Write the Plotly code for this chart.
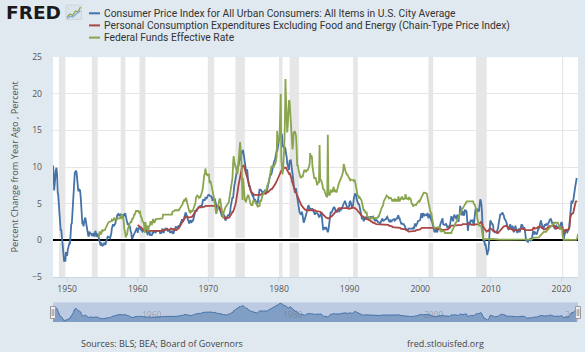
import plotly.graph_objects as go
import pandas as pd

# ---------------- data ----------------
CPI_START = "1948-01-01"
cpi = [
    10.2, 9.3, 6.8, 8.3, 9.4, 9.6, 9.9, 8.9, 6.5, 6.1, 4.8, 3.0,       # 1948
    1.3, 1.3, 1.5, 0.4, -0.6, -0.9, -2.8, -2.9, -2.5, -2.9, -1.6, -2.0,  # 1949
    -2.1, -1.3, -0.9, -1.0, -0.4, -0.4, 1.7, 2.2, 2.3, 3.8, 4.4, 5.8,   # 1950
    7.9, 9.2, 9.3, 9.5, 9.3, 8.5, 7.5, 6.7, 6.8, 6.9, 6.8, 6.0,         # 1951
    4.3, 2.2, 2.2, 2.3, 1.9, 2.6, 3.1, 3.1, 2.5, 1.9, 1.3, 0.9,         # 1952
    0.6, 0.6, 1.2, 1.0, 1.0, 0.9, 0.6, 0.9, 0.8, 1.0, 0.6, 0.6,         # 1953
    1.3, 1.0, 0.9, 0.5, 0.9, 0.5, 0.4, 0.0, -0.3, -0.7, -0.3, -0.6,     # 1954
    -0.8, -0.6, -0.6, -0.4, -0.6, -0.6, -0.3, 0.0, 0.3, 0.5, 0.5, 0.4,  # 1955
    0.3, 0.3, 0.6, 0.9, 1.6, 2.0, 2.2, 1.9, 2.0, 2.2, 2.3, 2.9,         # 1956
    2.9, 3.4, 3.6, 3.6, 3.5, 3.3, 3.5, 3.6, 3.3, 3.0, 3.5, 3.0,         # 1957
    3.6, 3.3, 3.6, 3.6, 3.2, 2.8, 2.4, 2.1, 2.2, 2.1, 1.9, 1.8,         # 1958
    1.2, 1.0, 0.3, 0.3, 0.5, 0.7, 0.9, 1.2, 1.3, 1.5, 1.6, 1.7,         # 1959
    1.0, 1.7, 1.5, 1.9, 1.7, 1.7, 1.4, 1.4, 1.2, 1.3, 1.3, 1.3,         # 1960
    1.6, 1.4, 1.5, 1.0, 1.0, 0.7, 1.3, 1.0, 1.3, 0.7, 0.7, 0.7,         # 1961
    0.7, 1.0, 1.0, 1.3, 1.3, 1.3, 1.0, 1.3, 1.3, 1.3, 1.3, 1.3,         # 1962
    1.3, 1.3, 1.0, 1.0, 1.0, 1.3, 1.6, 1.3, 1.0, 1.3, 1.6, 1.6,         # 1963
    1.6, 1.6, 1.6, 1.3, 1.3, 1.3, 1.3, 1.0, 1.3, 1.0, 1.3, 1.3,         # 1964
    0.9, 1.0, 1.3, 1.6, 1.6, 1.9, 1.6, 1.9, 1.6, 2.0, 1.9, 1.9,         # 1965
    2.2, 2.5, 2.5, 2.8, 2.8, 2.5, 2.8, 3.4, 3.4, 3.7, 3.7, 3.4,         # 1966
    3.3, 2.8, 2.7, 2.4, 2.4, 2.7, 2.7, 2.4, 2.7, 2.7, 2.7, 3.0,         # 1967
    3.6, 4.0, 4.0, 4.0, 4.0, 4.2, 4.5, 4.5, 4.5, 4.7, 4.7, 4.7,         # 1968
    4.4, 4.7, 5.3, 5.5, 5.5, 5.5, 5.5, 5.8, 5.7, 5.7, 5.9, 6.2,         # 1969
    6.2, 6.2, 6.1, 6.1, 6.0, 6.0, 5.9, 5.4, 5.7, 5.7, 5.6, 5.6,         # 1970
    5.3, 4.7, 4.5, 4.1, 4.4, 4.6, 4.4, 4.6, 4.1, 3.8, 3.5, 3.3,         # 1971
    3.3, 3.5, 3.5, 3.4, 3.2, 2.7, 2.9, 2.9, 3.2, 3.4, 3.4, 3.4,         # 1972
    3.6, 3.9, 4.6, 5.1, 5.5, 5.9, 5.7, 7.4, 7.4, 7.8, 8.3, 8.7,         # 1973
    9.4, 10.0, 10.2, 10.1, 10.6, 10.9, 11.5, 10.9, 12.0, 12.1, 12.2, 12.3,  # 1974
    11.8, 11.2, 10.3, 10.2, 9.5, 9.3, 9.7, 8.7, 7.9, 7.4, 7.4, 7.2,     # 1975
    6.7, 6.4, 6.1, 6.1, 6.2, 5.9, 5.4, 5.6, 5.5, 5.3, 5.0, 4.9,         # 1976
    5.2, 5.9, 6.4, 6.9, 6.9, 6.9, 6.8, 6.6, 6.6, 6.4, 6.7, 6.7,         # 1977
    6.8, 6.4, 6.4, 6.5, 6.9, 7.4, 7.7, 7.9, 8.3, 8.9, 8.9, 9.0,         # 1978
    9.3, 9.9, 10.2, 10.5, 10.8, 10.9, 11.3, 11.8, 12.2, 12.1, 12.6, 13.3,  # 1979
    13.9, 14.2, 14.8, 14.7, 14.4, 14.4, 13.1, 12.9, 12.6, 12.8, 12.6, 12.5,  # 1980
    11.8, 11.4, 10.5, 10.0, 9.8, 9.6, 10.8, 10.8, 11.0, 10.1, 9.6, 8.9,  # 1981
    8.4, 7.6, 6.8, 6.5, 6.7, 7.1, 6.4, 5.9, 5.0, 5.1, 4.6, 3.8,         # 1982
    3.7, 3.5, 3.6, 3.9, 3.5, 2.6, 2.4, 2.6, 2.9, 2.9, 3.3, 3.8,         # 1983
    4.2, 4.6, 4.8, 4.6, 4.2, 4.3, 4.2, 4.3, 4.3, 4.3, 4.1, 3.9,         # 1984
    3.5, 3.5, 3.7, 3.7, 3.8, 3.7, 3.6, 3.3, 3.2, 3.2, 3.5, 3.8,         # 1985
    3.9, 3.1, 2.2, 1.5, 1.5, 1.8, 1.6, 1.6, 1.8, 1.5, 1.3, 1.1,         # 1986
    1.4, 2.1, 3.0, 3.7, 3.9, 3.7, 3.9, 4.2, 4.3, 4.5, 4.5, 4.4,         # 1987
    4.0, 3.9, 3.9, 3.9, 3.9, 4.0, 4.1, 4.0, 4.2, 4.2, 4.2, 4.4,         # 1988
    4.7, 4.8, 5.0, 5.1, 5.4, 5.2, 5.0, 4.7, 4.4, 4.5, 4.6, 4.6,         # 1989
    5.2, 5.3, 5.2, 4.7, 4.4, 4.7, 4.8, 5.6, 6.2, 6.3, 6.3, 6.3,         # 1990
    5.6, 5.3, 4.9, 4.9, 5.0, 4.7, 4.4, 3.8, 3.4, 2.9, 3.0, 3.1,         # 1991
    2.6, 2.8, 3.2, 3.2, 3.0, 3.1, 3.2, 3.1, 3.0, 3.2, 3.0, 2.9,         # 1992
    3.2, 3.2, 3.0, 3.1, 3.2, 3.0, 2.8, 2.7, 2.7, 2.8, 2.7, 2.7,         # 1993
    2.5, 2.5, 2.5, 2.4, 2.3, 2.5, 2.8, 2.9, 2.9, 2.6, 2.7, 2.7,         # 1994
    2.8, 2.9, 2.9, 3.1, 3.2, 3.0, 2.8, 2.6, 2.5, 2.8, 2.6, 2.5,         # 1995
    2.7, 2.7, 2.8, 2.9, 2.9, 2.7, 2.9, 2.9, 3.0, 3.0, 3.3, 3.4,         # 1996
    3.0, 3.0, 2.7, 2.5, 2.2, 2.3, 2.2, 2.2, 2.2, 2.1, 1.9, 1.7,         # 1997
    1.5, 1.4, 1.4, 1.4, 1.6, 1.6, 1.6, 1.6, 1.5, 1.5, 1.5, 1.6,         # 1998
    1.7, 1.6, 1.7, 2.3, 2.1, 2.0, 2.2, 2.3, 2.6, 2.6, 2.6, 2.7,         # 1999
    2.8, 3.2, 3.7, 3.1, 3.2, 3.7, 3.6, 3.4, 3.5, 3.4, 3.4, 3.4,         # 2000
    3.7, 3.5, 3.0, 3.3, 3.6, 3.2, 2.7, 2.7, 2.6, 2.1, 1.9, 1.6,         # 2001
    1.2, 1.1, 1.5, 1.6, 1.2, 1.1, 1.5, 1.8, 1.5, 2.0, 2.2, 2.4,         # 2002
    2.6, 3.0, 3.0, 2.2, 2.1, 2.1, 2.1, 2.2, 2.3, 2.0, 1.8, 1.9,         # 2003
    1.9, 1.7, 1.7, 2.3, 3.1, 3.3, 3.0, 2.7, 2.6, 3.2, 3.5, 3.3,         # 2004
    3.0, 3.0, 3.1, 3.5, 2.8, 2.5, 3.2, 3.6, 4.7, 4.3, 3.5, 3.4,         # 2005
    4.0, 3.6, 3.4, 3.5, 4.2, 4.0, 4.1, 3.8, 2.1, 1.3, 2.0, 2.5,         # 2006
    2.1, 2.4, 2.8, 2.6, 2.7, 2.7, 2.4, 2.0, 2.8, 3.5, 4.3, 4.1,         # 2007
    4.3, 4.1, 4.0, 3.9, 4.1, 5.0, 5.6, 5.4, 4.9, 3.7, 1.1, 0.1,         # 2008
    -0.1, 0.0, -0.6, -0.6, -1.0, -1.4, -2.0, -1.5, -1.4, -0.2, 1.9, 2.7,  # 2009
    2.6, 2.2, 2.3, 2.2, 2.0, 1.1, 1.2, 1.1, 1.1, 1.2, 1.1, 1.4,         # 2010
    1.6, 2.1, 2.6, 3.1, 3.5, 3.5, 3.6, 3.8, 3.8, 3.5, 3.4, 3.0,         # 2011
    2.9, 2.8, 2.6, 2.3, 1.7, 1.7, 1.4, 1.7, 2.0, 2.2, 1.8, 1.7,         # 2012
    1.6, 2.0, 1.5, 1.1, 1.4, 1.8, 2.0, 1.5, 1.2, 1.0, 1.2, 1.5,         # 2013
    1.6, 1.1, 1.5, 2.0, 2.1, 2.1, 2.0, 1.7, 1.7, 1.7, 1.3, 0.8,         # 2014
    -0.1, 0.0, -0.1, -0.2, 0.0, 0.1, 0.2, 0.2, 0.0, 0.1, 0.4, 0.7,      # 2015
    1.3, 0.9, 0.9, 1.1, 1.0, 1.0, 0.8, 1.1, 1.5, 1.6, 1.7, 2.1,         # 2016
    2.5, 2.7, 2.4, 2.2, 1.9, 1.6, 1.7, 1.9, 2.2, 2.0, 2.2, 2.1,         # 2017
    2.1, 2.2, 2.4, 2.5, 2.8, 2.9, 2.9, 2.7, 2.3, 2.5, 2.2, 1.9,         # 2018
    1.6, 1.5, 1.9, 2.0, 1.8, 1.6, 1.8, 1.7, 1.7, 1.8, 2.1, 2.3,         # 2019
    2.5, 2.3, 1.5, 0.3, 0.2, 0.7, 1.0, 1.3, 1.4, 1.2, 1.1, 1.3,         # 2020
    1.4, 1.7, 2.6, 4.1, 4.9, 5.3, 5.3, 5.2, 5.4, 6.2, 6.8, 7.1,         # 2021
    7.6, 7.9, 8.5,                                                      # 2022
]

PCE_START = "1960-01-01"
pce_core = [
    2.1, 2.0, 1.9, 1.9, 1.8, 1.8, 1.7, 1.7, 1.6, 1.5, 1.5, 1.4,   # 1960
    1.3, 1.3, 1.3, 1.3, 1.3, 1.2, 1.3, 1.2, 1.3, 1.3, 1.3, 1.3,   # 1961
    1.3, 1.3, 1.2, 1.3, 1.2, 1.3, 1.3, 1.2, 1.2, 1.2, 1.2, 1.2,   # 1962
    1.3, 1.3, 1.3, 1.3, 1.2, 1.3, 1.3, 1.4, 1.4, 1.4, 1.4, 1.5,   # 1963
    1.4, 1.4, 1.4, 1.5, 1.5, 1.5, 1.5, 1.5, 1.6, 1.6, 1.6, 1.5,   # 1964
    1.5, 1.5, 1.5, 1.4, 1.4, 1.3, 1.4, 1.5, 1.5, 1.6, 1.7, 1.8,   # 1965
    1.9, 2.0, 2.2, 2.4, 2.5, 2.6, 2.7, 2.9, 3.0, 3.2, 3.2, 3.3,   # 1966
    3.3, 3.2, 3.1, 3.1, 3.1, 3.1, 3.1, 3.1, 3.2, 3.3, 3.4, 3.5,   # 1967
    3.7, 3.8, 4.0, 4.1, 4.2, 4.3, 4.4, 4.5, 4.5, 4.5, 4.5, 4.5,   # 1968
    4.5, 4.5, 4.5, 4.6, 4.5, 4.6, 4.6, 4.7, 4.7, 4.7, 4.8, 4.8,   # 1969
    4.8, 4.8, 4.8, 4.8, 4.8, 4.8, 4.8, 4.8, 4.7, 4.7, 4.7, 4.7,   # 1970
    4.7, 4.8, 4.8, 4.7, 4.8, 4.7, 4.6, 4.5, 4.3, 4.1, 3.9, 3.7,   # 1971
    3.5, 3.3, 3.2, 3.1, 3.0, 3.1, 3.0, 3.0, 3.0, 3.0, 3.1, 3.1,   # 1972
    3.2, 3.3, 3.4, 3.6, 3.7, 3.9, 3.9, 4.1, 4.3, 4.6, 4.9, 5.3,   # 1973
    5.7, 6.2, 6.8, 7.4, 7.9, 8.3, 8.8, 9.2, 9.5, 9.9, 10.1, 10.2,  # 1974
    10.2, 10.0, 9.7, 9.4, 9.1, 8.8, 8.4, 8.1, 7.8, 7.5, 7.2, 7.0,  # 1975
    6.8, 6.6, 6.5, 6.4, 6.3, 6.2, 6.2, 6.2, 6.2, 6.2, 6.1, 6.1,   # 1976
    6.1, 6.1, 6.1, 6.1, 6.1, 6.2, 6.3, 6.3, 6.3, 6.3, 6.3, 6.3,   # 1977
    6.3, 6.4, 6.4, 6.5, 6.5, 6.6, 6.6, 6.7, 6.8, 6.9, 7.0, 7.0,   # 1978
    7.0, 7.1, 7.2, 7.3, 7.4, 7.5, 7.7, 7.9, 8.0, 8.2, 8.4, 8.6,   # 1979
    8.9, 9.1, 9.3, 9.4, 9.5, 9.6, 9.7, 9.8, 9.8, 9.9, 9.9, 9.9,   # 1980
    9.9, 9.7, 9.5, 9.3, 9.2, 9.1, 9.2, 9.0, 8.8, 8.5, 8.1, 7.8,   # 1981
    7.5, 7.3, 7.0, 6.8, 6.6, 6.5, 6.3, 6.1, 5.9, 5.6, 5.4, 5.2,   # 1982
    5.0, 4.9, 4.8, 4.7, 4.6, 4.4, 4.3, 4.3, 4.2, 4.2, 4.1, 4.1,   # 1983
    4.1, 4.1, 4.2, 4.2, 4.2, 4.2, 4.1, 4.1, 4.1, 4.1, 4.1, 4.1,   # 1984
    4.1, 4.1, 4.0, 4.0, 4.0, 4.0, 4.0, 4.0, 4.0, 4.0, 3.9, 3.8,   # 1985
    3.8, 3.7, 3.6, 3.5, 3.4, 3.3, 3.2, 3.2, 3.1, 3.1, 3.0, 3.0,   # 1986
    3.0, 3.0, 3.1, 3.1, 3.2, 3.2, 3.3, 3.4, 3.5, 3.6, 3.7, 3.8,   # 1987
    3.9, 4.0, 4.1, 4.2, 4.2, 4.3, 4.4, 4.4, 4.4, 4.4, 4.4, 4.4,   # 1988
    4.4, 4.4, 4.5, 4.5, 4.5, 4.5, 4.4, 4.4, 4.4, 4.4, 4.3, 4.3,   # 1989
    4.4, 4.4, 4.4, 4.4, 4.4, 4.5, 4.5, 4.5, 4.4, 4.4, 4.3, 4.3,   # 1990
    4.2, 4.1, 4.0, 3.9, 3.8, 3.7, 3.6, 3.5, 3.4, 3.3, 3.3, 3.2,   # 1991
    3.2, 3.1, 3.1, 3.0, 3.0, 2.9, 2.9, 2.8, 2.8, 2.8, 2.7, 2.6,   # 1992
    2.6, 2.6, 2.5, 2.5, 2.4, 2.4, 2.4, 2.3, 2.3, 2.2, 2.2, 2.2,   # 1993
    2.1, 2.1, 2.1, 2.1, 2.1, 2.1, 2.1, 2.1, 2.1, 2.2, 2.2, 2.2,   # 1994
    2.2, 2.2, 2.2, 2.2, 2.1, 2.1, 2.1, 2.0, 2.0, 2.0, 1.9, 1.9,   # 1995
    1.9, 1.8, 1.8, 1.8, 1.8, 1.7, 1.7, 1.7, 1.7, 1.7, 1.7, 1.7,   # 1996
    1.7, 1.7, 1.7, 1.6, 1.6, 1.6, 1.5, 1.5, 1.5, 1.5, 1.5, 1.5,   # 1997
    1.4, 1.4, 1.3, 1.3, 1.2, 1.2, 1.2, 1.2, 1.2, 1.2, 1.3, 1.3,   # 1998
    1.3, 1.3, 1.3, 1.3, 1.3, 1.4, 1.4, 1.4, 1.4, 1.4, 1.4, 1.4,   # 1999
    1.5, 1.6, 1.7, 1.7, 1.7, 1.7, 1.7, 1.8, 1.8, 1.8, 1.8, 1.8,   # 2000
    1.8, 1.8, 1.8, 1.8, 1.8, 1.8, 1.8, 1.8, 1.8, 1.8, 1.8, 1.8,   # 2001
    1.7, 1.7, 1.7, 1.6, 1.6, 1.6, 1.6, 1.6, 1.6, 1.6, 1.5, 1.5,   # 2002
    1.5, 1.4, 1.4, 1.4, 1.4, 1.4, 1.4, 1.4, 1.4, 1.4, 1.5, 1.5,   # 2003
    1.6, 1.7, 1.8, 1.9, 2.0, 2.0, 2.0, 2.0, 2.0, 2.0, 2.0, 2.1,   # 2004
    2.1, 2.1, 2.1, 2.1, 2.1, 2.1, 2.1, 2.1, 2.1, 2.1, 2.1, 2.1,   # 2005
    2.2, 2.2, 2.2, 2.3, 2.3, 2.3, 2.3, 2.3, 2.3, 2.2, 2.2, 2.2,   # 2006
    2.2, 2.2, 2.2, 2.1, 2.1, 2.1, 2.1, 2.1, 2.1, 2.1, 2.2, 2.2,   # 2007
    2.2, 2.2, 2.2, 2.2, 2.3, 2.3, 2.4, 2.5, 2.4, 2.2, 2.0, 1.8,   # 2008
    1.6, 1.6, 1.5, 1.4, 1.3, 1.2, 1.3, 1.3, 1.3, 1.5, 1.6, 1.6,   # 2009
    1.6, 1.5, 1.4, 1.4, 1.3, 1.3, 1.2, 1.2, 1.2, 1.1, 1.1, 1.0,   # 2010
    1.0, 1.1, 1.2, 1.3, 1.4, 1.5, 1.6, 1.7, 1.8, 1.8, 1.9, 1.9,   # 2011
    2.0, 2.0, 2.0, 1.9, 1.8, 1.8, 1.6, 1.6, 1.6, 1.6, 1.6, 1.6,   # 2012
    1.5, 1.4, 1.3, 1.3, 1.3, 1.4, 1.4, 1.4, 1.4, 1.4, 1.4, 1.5,   # 2013
    1.5, 1.5, 1.5, 1.6, 1.6, 1.6, 1.6, 1.5, 1.5, 1.5, 1.5, 1.4,   # 2014
    1.4, 1.4, 1.3, 1.3, 1.3, 1.3, 1.3, 1.3, 1.4, 1.4, 1.4, 1.5,   # 2015
    1.7, 1.8, 1.6, 1.6, 1.7, 1.7, 1.7, 1.7, 1.8, 1.8, 1.8, 1.9,   # 2016
    1.9, 1.9, 1.7, 1.7, 1.6, 1.6, 1.5, 1.5, 1.4, 1.5, 1.6, 1.6,   # 2017
    1.7, 1.7, 1.9, 1.9, 2.0, 2.0, 2.0, 2.0, 2.0, 1.9, 1.9, 2.0,   # 2018
    1.8, 1.7, 1.6, 1.6, 1.7, 1.7, 1.7, 1.8, 1.7, 1.6, 1.6, 1.6,   # 2019
    1.7, 1.8, 1.7, 0.9, 1.0, 1.1, 1.4, 1.4, 1.5, 1.4, 1.4, 1.5,   # 2020
    1.5, 1.6, 2.0, 3.1, 3.5, 3.6, 3.6, 3.6, 3.7, 4.1, 4.7, 4.9,   # 2021
    5.2, 5.4, 5.2,                                                # 2022
]

FFR_START = "1954-07-01"
fed_funds = [
    0.4, 1.2, 1.1, 0.9, 0.8, 1.3,                                 # 1954 (Jul-Dec)
    1.4, 1.3, 1.4, 1.4, 1.4, 1.6, 1.7, 2.0, 2.2, 2.2, 2.4, 2.5,   # 1955
    2.5, 2.5, 2.5, 2.6, 2.8, 2.7, 2.8, 2.7, 3.0, 3.0, 2.9, 2.9,   # 1956
    2.8, 3.0, 3.0, 3.0, 3.0, 3.0, 3.0, 3.2, 3.5, 3.5, 3.3, 3.0,   # 1957
    2.7, 1.7, 1.2, 1.3, 0.4, 0.9, 0.7, 1.5, 1.8, 1.8, 2.3, 2.4,   # 1958
    2.5, 2.4, 2.8, 3.0, 2.9, 3.4, 3.5, 3.5, 3.8, 4.0, 4.0, 4.0,   # 1959
    4.0, 4.0, 3.8, 3.9, 3.9, 3.3, 3.2, 3.0, 2.6, 2.5, 2.4, 2.0,   # 1960
    1.0, 2.5, 2.0, 1.5, 2.0, 1.7, 1.2, 2.0, 1.9, 2.3, 2.6, 2.3,   # 1961
    2.2, 2.4, 2.9, 2.8, 2.4, 2.7, 2.7, 2.9, 2.9, 2.9, 2.9, 2.9,   # 1962
    2.9, 3.0, 3.0, 2.9, 3.0, 3.0, 3.0, 3.5, 3.5, 3.5, 3.5, 3.4,   # 1963
    3.5, 3.5, 3.4, 3.5, 3.5, 3.5, 3.4, 3.5, 3.5, 3.4, 3.5, 3.9,   # 1964
    3.9, 4.0, 4.0, 4.1, 4.1, 4.0, 4.1, 4.1, 4.0, 4.1, 4.1, 4.3,   # 1965
    4.4, 4.6, 4.7, 4.7, 4.9, 5.2, 5.3, 5.5, 5.4, 5.5, 5.8, 5.4,   # 1966
    4.9, 5.0, 4.5, 4.1, 3.9, 4.0, 3.8, 3.9, 4.0, 3.9, 4.1, 4.5,   # 1967
    4.6, 4.7, 5.1, 5.8, 6.1, 6.1, 6.0, 6.0, 5.8, 5.9, 5.8, 6.0,   # 1968
    6.3, 6.6, 6.8, 7.4, 8.7, 8.9, 9.0, 9.8, 9.2, 9.0, 8.9, 9.0,   # 1969
    9.0, 9.0, 7.8, 8.1, 8.0, 7.6, 7.2, 6.6, 6.3, 6.2, 5.6, 4.9,   # 1970
    4.1, 3.7, 3.7, 4.2, 4.6, 4.9, 5.3, 5.6, 5.6, 5.2, 4.9, 4.1,   # 1971
    3.5, 3.0, 3.8, 4.2, 4.3, 4.5, 4.6, 4.8, 4.9, 5.0, 5.1, 5.3,   # 1972
    5.9, 6.6, 7.1, 7.1, 7.8, 8.5, 10.4, 11.5, 10.8, 10.0, 10.0, 9.9,  # 1973
    9.6, 9.0, 9.4, 10.5, 11.3, 11.9, 13.4, 12.0, 11.3, 9.0, 5.5, 8.5,  # 1974
    7.1, 6.2, 5.5, 5.5, 5.2, 5.6, 6.1, 6.1, 6.2, 5.8, 5.2, 5.2,   # 1975
    4.9, 4.8, 4.8, 4.8, 5.3, 5.5, 5.3, 5.3, 5.3, 5.0, 5.0, 4.7,   # 1976
    4.6, 4.7, 4.7, 4.7, 5.4, 5.4, 5.4, 5.9, 6.1, 6.5, 6.5, 6.6,   # 1977
    6.7, 6.8, 6.8, 6.9, 7.4, 7.6, 7.8, 8.0, 8.5, 9.0, 9.8, 10.0,  # 1978
    10.1, 10.1, 10.1, 10.0, 10.2, 10.3, 10.5, 10.9, 11.4, 14.9, 13.2, 13.8,  # 1979
    13.8, 14.1, 17.2, 20.0, 11.0, 9.5, 9.0, 9.6, 10.9, 12.8, 15.9, 22.0,    # 1980
    19.1, 15.9, 14.7, 15.7, 18.5, 19.1, 19.0, 17.8, 15.9, 15.1, 13.3, 12.4,  # 1981
    13.2, 14.8, 14.7, 14.9, 14.5, 14.2, 12.6, 10.1, 10.3, 9.7, 9.2, 9.0,     # 1982
    8.7, 8.5, 8.8, 8.8, 8.6, 9.0, 9.4, 9.6, 9.5, 9.5, 9.3, 9.5,   # 1983
    9.6, 9.6, 9.9, 10.3, 10.3, 11.9, 11.2, 11.6, 11.3, 10.0, 9.4, 8.4,  # 1984
    8.4, 8.5, 8.6, 8.3, 8.0, 7.5, 7.9, 7.9, 7.9, 13.0, 8.1, 8.3,  # 1985
    8.1, 7.9, 7.5, 7.0, 6.9, 6.9, 6.6, 6.2, 5.9, 5.9, 6.0, 14.4,  # 1986
    6.4, 6.1, 6.1, 6.4, 6.9, 6.7, 6.6, 6.7, 7.2, 7.3, 6.7, 6.8,   # 1987
    6.8, 6.6, 6.6, 6.9, 7.1, 7.5, 7.8, 8.0, 8.2, 8.3, 8.4, 8.8,   # 1988
    9.1, 9.4, 10.4, 9.8, 9.8, 9.5, 9.2, 9.0, 9.0, 8.8, 8.6, 8.5,  # 1989
    8.2, 8.2, 8.3, 8.3, 8.2, 8.3, 8.2, 8.1, 8.2, 8.1, 7.8, 7.3,   # 1990
    6.9, 6.3, 6.1, 5.9, 5.8, 5.9, 5.8, 5.7, 5.5, 5.2, 4.8, 4.4,   # 1991
    4.0, 4.1, 4.0, 3.7, 3.8, 3.8, 3.3, 3.3, 3.2, 3.1, 3.1, 2.9,   # 1992
    3.0, 3.0, 3.1, 3.0, 3.0, 3.0, 3.1, 3.0, 3.1, 3.0, 3.0, 3.0,   # 1993
    3.1, 3.3, 3.3, 3.6, 4.0, 4.3, 4.3, 4.5, 4.7, 4.8, 5.3, 5.5,   # 1994
    5.5, 5.9, 6.0, 6.1, 6.0, 6.0, 5.9, 5.7, 5.8, 5.8, 5.8, 5.6,   # 1995
    5.6, 5.3, 5.6, 5.3, 5.4, 5.6, 5.5, 5.3, 5.6, 5.3, 5.5, 6.0,   # 1996
    5.4, 5.3, 5.6, 5.7, 5.6, 6.0, 5.6, 5.7, 5.6, 5.6, 5.7, 6.3,   # 1997
    5.7, 5.6, 5.7, 5.6, 5.6, 5.9, 5.6, 5.7, 5.6, 5.2, 4.9, 5.0,   # 1998
    4.6, 4.8, 4.8, 4.7, 4.7, 4.8, 5.0, 5.1, 5.2, 5.2, 5.4, 5.3,   # 1999
    5.5, 5.7, 5.9, 6.0, 6.3, 6.5, 6.5, 6.5, 6.5, 6.5, 6.5, 6.4,   # 2000
    6.0, 5.5, 5.3, 4.8, 4.2, 4.0, 3.8, 3.7, 3.1, 2.5, 2.1, 1.8,   # 2001
    1.7, 1.7, 1.7, 1.8, 1.8, 1.8, 1.7, 1.7, 1.8, 1.8, 1.3, 1.2,   # 2002
    1.2, 1.3, 1.3, 1.3, 1.3, 1.2, 1.0, 1.0, 1.0, 1.0, 1.0, 1.0,   # 2003
    1.0, 1.0, 1.0, 1.0, 1.0, 1.0, 1.3, 1.4, 1.6, 1.8, 1.9, 2.2,   # 2004
    2.3, 2.5, 2.6, 2.8, 3.0, 3.0, 3.3, 3.5, 3.6, 3.8, 4.0, 4.2,   # 2005
    4.3, 4.5, 4.6, 4.8, 4.9, 5.0, 5.2, 5.3, 5.3, 5.3, 5.3, 5.2,   # 2006
    5.3, 5.3, 5.3, 5.3, 5.3, 5.3, 5.3, 5.0, 4.9, 4.8, 4.5, 4.2,   # 2007
    3.9, 3.0, 2.6, 2.3, 2.0, 2.0, 2.0, 2.0, 1.8, 1.0, 0.4, 0.2,   # 2008
    0.15, 0.22, 0.18, 0.15, 0.18, 0.21, 0.16, 0.16, 0.15, 0.12, 0.12, 0.12,  # 2009
    0.11, 0.13, 0.16, 0.20, 0.20, 0.18, 0.18, 0.19, 0.19, 0.19, 0.19, 0.18,  # 2010
    0.17, 0.16, 0.14, 0.10, 0.09, 0.09, 0.07, 0.10, 0.08, 0.07, 0.08, 0.07,  # 2011
    0.08, 0.10, 0.13, 0.14, 0.16, 0.16, 0.16, 0.13, 0.14, 0.16, 0.16, 0.16,  # 2012
    0.14, 0.15, 0.14, 0.15, 0.11, 0.09, 0.09, 0.08, 0.08, 0.09, 0.08, 0.09,  # 2013
    0.07, 0.07, 0.08, 0.09, 0.09, 0.10, 0.09, 0.09, 0.09, 0.09, 0.09, 0.12,  # 2014
    0.11, 0.11, 0.11, 0.12, 0.12, 0.13, 0.13, 0.14, 0.14, 0.12, 0.12, 0.24,  # 2015
    0.34, 0.38, 0.36, 0.37, 0.37, 0.38, 0.39, 0.40, 0.40, 0.40, 0.41, 0.54,  # 2016
    0.65, 0.66, 0.79, 0.90, 0.91, 1.04, 1.15, 1.16, 1.15, 1.15, 1.16, 1.30,  # 2017
    1.41, 1.42, 1.51, 1.69, 1.70, 1.82, 1.91, 1.91, 1.95, 2.19, 2.20, 2.27,  # 2018
    2.40, 2.40, 2.41, 2.42, 2.39, 2.38, 2.40, 2.13, 2.04, 1.83, 1.55, 1.55,  # 2019
    1.55, 1.58, 0.65, 0.05, 0.05, 0.08, 0.09, 0.10, 0.09, 0.09, 0.09, 0.09,  # 2020
    0.09, 0.08, 0.07, 0.07, 0.06, 0.08, 0.10, 0.09, 0.08, 0.08, 0.08, 0.08,  # 2021
    0.08, 0.08, 0.20, 0.33, 0.83,                                            # 2022
]

recession_starts = ["1948-11-01", "1953-07-01", "1957-08-01", "1960-04-01", "1969-12-01", "1973-11-01",
                    "1980-01-01", "1981-07-01", "1990-07-01", "2001-03-01", "2007-12-01", "2020-02-01"]
recession_ends = ["1949-10-01", "1954-05-01", "1958-04-01", "1961-02-01", "1970-11-01", "1975-03-01",
                  "1980-07-01", "1982-11-01", "1991-03-01", "2001-11-01", "2009-06-01", "2020-04-01"]

series_names = [
    "Consumer Price Index for All Urban Consumers: All Items in U.S. City Average",
    "Personal Consumption Expenditures Excluding Food and Energy (Chain-Type Price Index)",
    "Federal Funds Effective Rate",
]
series_colors = ["#4572A7", "#AA4643", "#89A54E"]
nav_labels = ["1960", "1980", "2000", "2"]
nav_label_dates = ["1960-01-01", "1980-01-01", "2000-01-01", "2020-01-01"]

X_START, X_END = "1948-01-01", "2022-05-06"
NAV_MIN, NAV_MAX = -3.9, 15.5

assert len(cpi) == 891 and len(pce_core) == 747 and len(fed_funds) == 815

cpi_dates = pd.date_range(CPI_START, periods=len(cpi), freq="MS")
pce_dates = pd.date_range(PCE_START, periods=len(pce_core), freq="MS")
ffr_dates = pd.date_range(FFR_START, periods=len(fed_funds), freq="MS")

# ---------------- geometry helpers (pixel -> paper) ----------------
W, H = 585, 352
ML, MR, MT, MB = 53, 7, 57, 30
PW, PH = W - ML - MR, H - MT - MB


def px(x):
    return (x - ML) / PW


def py(y):
    return (H - MB - y) / PH


FONT = "Open Sans"

fig = go.Figure()

# main series
for dates, vals, col in [(cpi_dates, cpi, series_colors[0]),
                         (pce_dates, pce_core, series_colors[1]),
                         (ffr_dates, fed_funds, series_colors[2])]:
    fig.add_trace(go.Scatter(x=dates, y=vals, mode="lines", xaxis="x", yaxis="y",
                             line=dict(color=col, width=1.8), hoverinfo="skip", showlegend=False))

# navigator (mini area of first series)
fig.add_trace(go.Scatter(x=cpi_dates, y=[NAV_MIN] * len(cpi), mode="lines", xaxis="x2", yaxis="y2",
                         line=dict(width=0, color="rgba(0,0,0,0)"), hoverinfo="skip", showlegend=False))
fig.add_trace(go.Scatter(x=cpi_dates, y=cpi, mode="lines", xaxis="x2", yaxis="y2", fill="tonexty",
                         fillcolor="rgba(69,114,167,0.5)", line=dict(color="#4572A7", width=1),
                         hoverinfo="skip", showlegend=False))

shapes = []
for s, e in zip(recession_starts, recession_ends):
    shapes.append(dict(type="rect", xref="x", yref="y domain", x0=s, x1=e, y0=0, y1=1,
                       fillcolor="#e6e6e6", line=dict(width=0), layer="below"))
# white halo behind zero line
shapes.append(dict(type="line", xref="x domain", yref="y", x0=0, x1=1, y0=0, y1=0,
                   line=dict(color="#ffffff", width=5), layer="below"))
# navigator background
shapes.append(dict(type="rect", xref="x2 domain", yref="y2 domain", x0=0, x1=1, y0=0, y1=1,
                   fillcolor="#bccbe2", line=dict(width=0), layer="below"))
# navigator handles
for cx in (ML, ML + PW):
    shapes.append(dict(type="rect", xref="paper", yref="paper", x0=px(cx - 2.5), x1=px(cx + 2.5),
                       y0=py(318.5), y1=py(306.5), fillcolor="#f2f2f2", line=dict(color="#999999", width=1)))
    for dx in (-0.8, 0.8):
        shapes.append(dict(type="line", xref="paper", yref="paper", x0=px(cx + dx), x1=px(cx + dx),
                           y0=py(316), y1=py(309), line=dict(color="#999999", width=1)))

# legend swatches
legend_y = [13.3, 25.4, 37.6]
for yy, col in zip(legend_y, series_colors):
    shapes.append(dict(type="line", xref="paper", yref="paper", x0=px(89), x1=px(100), y0=py(yy), y1=py(yy),
                       line=dict(color=col, width=2)))

# FRED icon (small chart glyph)
shapes.append(dict(type="rect", xref="paper", yref="paper", x0=px(66), x1=px(81.5), y0=py(19.5), y1=py(5),
                   fillcolor="#dde3ea", line=dict(color="#cfd6de", width=1)))


def path(pts):
    return "M " + " L ".join(f"{px(a):.5f},{py(b):.5f}" for a, b in pts)


shapes.append(dict(type="path", xref="paper", yref="paper",
                   path=path([(67, 17), (70, 14), (72.5, 15.5), (75.5, 11), (78, 12), (80.5, 7)]),
                   line=dict(color="#89A54E", width=1.2)))
shapes.append(dict(type="path", xref="paper", yref="paper",
                   path=path([(67, 18.5), (70, 16.5), (73, 17), (76, 14), (80.5, 11)]),
                   line=dict(color="#7fa6cf", width=1.2)))

annotations = []
for yy, name in zip(legend_y, series_names):
    annotations.append(dict(text=name, xref="paper", yref="paper", x=px(102.5), y=py(yy), xanchor="left",
                            yanchor="middle", showarrow=False, borderpad=0,
                            font=dict(family="Roboto", size=10.3, color="#333333")))
annotations.append(dict(text="<b>FRED</b>", xref="paper", yref="paper", x=px(3.5), y=py(12.3), xanchor="left",
                        yanchor="middle", showarrow=False, font=dict(family="DejaVu Sans", size=18.5, color="#1a1a1a")))
annotations.append(dict(text="Percent Change from Year Ago , Percent", xref="paper", yref="paper", x=px(13.5),
                        y=py(167), textangle=-90, xanchor="center", yanchor="middle", showarrow=False,
                        font=dict(family=FONT, size=9.2, color="#555555")))
annotations.append(dict(text="Sources: BLS; BEA; Board of Governors", xref="paper", yref="paper", x=px(78.5),
                        y=py(343), xanchor="left", yanchor="middle", showarrow=False,
                        font=dict(family=FONT, size=9.0, color="#444444")))
annotations.append(dict(text="fred.stlouisfed.org", xref="paper", yref="paper", x=px(405), y=py(343),
                        xanchor="left", yanchor="middle", showarrow=False,
                        font=dict(family=FONT, size=9.0, color="#444444")))
for lab, d in zip(nav_labels, nav_label_dates):
    annotations.append(dict(text=lab, xref="x2", yref="paper", x=d, y=py(314.3), xanchor="left", xshift=2,
                            yanchor="middle", showarrow=False,
                            font=dict(family=FONT, size=8.5, color="rgba(110,110,110,0.45)")))

tickfont = dict(family=FONT, size=8.6, color="#555555")
fig.update_layout(
    width=W, height=352, margin=dict(l=ML, r=MR, t=MT, b=MB),
    paper_bgcolor="#E1E9F0", plot_bgcolor="#FFFFFF", showlegend=False,
    xaxis=dict(type="date", domain=[0, 1], anchor="y", range=[X_START, X_END], tickformat="%Y",
               dtick="M120", tick0="1950-01-01", ticks="outside", ticklen=4, tickcolor="#ccd6eb",
               showgrid=False, showline=True, linecolor="#ccd6eb", zeroline=False, tickfont=tickfont,
               fixedrange=True),
    yaxis=dict(domain=[py(277), 1], anchor="x", range=[-5, 25], dtick=5, tick0=0, gridcolor="#e6e6e6",
               gridwidth=1, zeroline=True, zerolinecolor="#000000", zerolinewidth=2, showline=False,
               ticks="", ticklabelstandoff=10, tickfont=tickfont, fixedrange=True),
    xaxis2=dict(type="date", domain=[0, 1], anchor="y2", range=[X_START, X_END], visible=False, fixedrange=True),
    yaxis2=dict(domain=[0, py(302.3)], anchor="x2", range=[NAV_MIN, NAV_MAX], visible=False, fixedrange=True),
    shapes=shapes, annotations=annotations,
)

fig.write_html("out.html")
